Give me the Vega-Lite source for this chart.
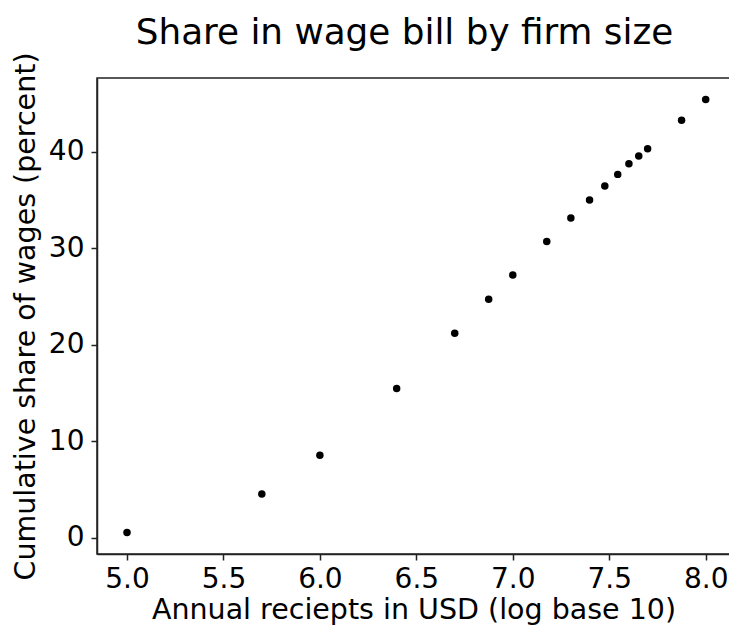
{
  "$schema": "https://vega.github.io/schema/vega-lite/v6.json",
  "autosize": "none",
  "width": 633,
  "height": 476,
  "padding": {"left": 97, "top": 78, "right": 0, "bottom": 71},
  "background": "white",
  "title": {
    "text": "Share in wage bill by firm size",
    "font": "DejaVu Sans",
    "fontSize": 35.8,
    "fontWeight": "normal",
    "color": "black",
    "anchor": "middle",
    "baseline": "alphabetic",
    "offset": 33,
    "dx": -9,
    "dy": 61
  },
  "config": {
    "view": {"stroke": "#222", "strokeWidth": 1.5},
    "axis": {
      "labelFont": "DejaVu Sans",
      "titleFont": "DejaVu Sans",
      "labelFontSize": 28,
      "titleFontSize": 28.5,
      "titleFontWeight": "normal",
      "labelColor": "black",
      "titleColor": "black",
      "domainColor": "#222",
      "domainWidth": 1.5,
      "tickColor": "#222",
      "tickWidth": 1.5,
      "tickSize": 6,
      "grid": false
    }
  },
  "data": {
    "values": [
      {"logReceipts": 5.0, "share": 0.55},
      {"logReceipts": 5.699, "share": 4.54},
      {"logReceipts": 6.0, "share": 8.55},
      {"logReceipts": 6.398, "share": 15.47},
      {"logReceipts": 6.699, "share": 21.2},
      {"logReceipts": 6.875, "share": 24.71},
      {"logReceipts": 7.0, "share": 27.24},
      {"logReceipts": 7.176, "share": 30.71},
      {"logReceipts": 7.301, "share": 33.13},
      {"logReceipts": 7.398, "share": 35.0},
      {"logReceipts": 7.477, "share": 36.45},
      {"logReceipts": 7.544, "share": 37.66},
      {"logReceipts": 7.602, "share": 38.76},
      {"logReceipts": 7.653, "share": 39.56},
      {"logReceipts": 7.699, "share": 40.32},
      {"logReceipts": 7.875, "share": 43.27},
      {"logReceipts": 8.0, "share": 45.41}
    ]
  },
  "mark": {"type": "point", "filled": true, "color": "black", "opacity": 1, "size": 56},
  "encoding": {
    "x": {
      "field": "logReceipts",
      "type": "quantitative",
      "scale": {"domain": [4.8445, 8.126], "nice": false, "zero": false},
      "axis": {
        "title": "Annual reciepts in USD (log base 10)",
        "values": [5, 5.5, 6, 6.5, 7, 7.5, 8],
        "format": ".1f",
        "labelPadding": 5,
        "titlePadding": 2
      }
    },
    "y": {
      "field": "share",
      "type": "quantitative",
      "scale": {"domain": [-1.69, 47.65], "nice": false, "zero": false},
      "axis": {
        "title": "Cumulative share of wages (percent)",
        "values": [0, 10, 20, 30, 40],
        "format": "d",
        "labelPadding": 7,
        "titlePadding": 8
      }
    }
  }
}
